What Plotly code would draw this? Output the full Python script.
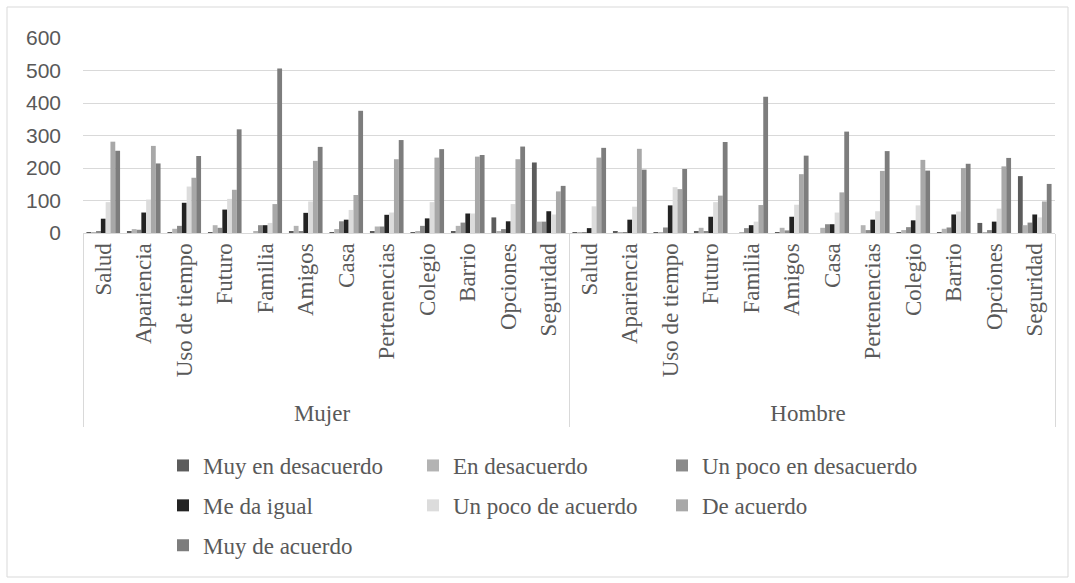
import plotly.graph_objects as go

groups = ["Mujer", "Hombre"]
categories = ["Salud", "Apariencia", "Uso de tiempo", "Futuro", "Familia", "Amigos",
              "Casa", "Pertenencias", "Colegio", "Barrio", "Opciones", "Seguridad"]

series_names = ["Muy en desacuerdo", "En desacuerdo", "Un poco en desacuerdo",
                "Me da igual", "Un poco de acuerdo", "De acuerdo", "Muy de acuerdo"]
colors = ["#5c5c5c", "#b3b3b3", "#8a8a8a", "#232323", "#dcdcdc", "#a8a8a8", "#7d7d7d"]

# Values: Mujer (12) followed by Hombre (12)
muy_en_desacuerdo = [1, 5, 2, 3, 0, 5, 2, 4, 2, 5, 48, 217,
                     1, 4, 2, 6, 0, 1, 0, 0, 1, 1, 31, 175]
en_desacuerdo = [2, 12, 13, 24, 5, 22, 12, 20, 5, 22, 5, 35,
                 1, 1, 2, 16, 1, 16, 16, 24, 9, 13, 1, 24]
un_poco_en_desacuerdo = [6, 10, 22, 16, 24, 5, 36, 20, 22, 32, 12, 35,
                         2, 2, 17, 6, 15, 8, 27, 9, 18, 17, 9, 32]
me_da_igual = [44, 63, 93, 72, 24, 62, 41, 56, 45, 60, 36, 67,
               15, 41, 85, 50, 24, 50, 27, 41, 39, 57, 35, 57]
un_poco_de_acuerdo = [95, 103, 143, 105, 31, 97, 71, 63, 95, 60, 89, 57,
                      82, 81, 141, 95, 35, 87, 63, 67, 85, 66, 75, 48]
de_acuerdo = [281, 268, 170, 133, 89, 222, 117, 227, 232, 235, 227, 128,
              232, 259, 135, 115, 86, 181, 125, 191, 225, 200, 205, 97]
muy_de_acuerdo = [253, 214, 237, 319, 506, 265, 376, 286, 258, 240, 266, 145,
                  262, 195, 197, 280, 419, 238, 312, 252, 192, 213, 231, 151]

series_values = [muy_en_desacuerdo, en_desacuerdo, un_poco_en_desacuerdo, me_da_igual,
                 un_poco_de_acuerdo, de_acuerdo, muy_de_acuerdo]
# legend column for each series (3 columns, filled row by row)
legend_cols = ["legend", "legend2", "legend3", "legend", "legend2", "legend3", "legend"]

y_ticks = [0, 100, 200, 300, 400, 500, 600]

x_outer = [g for g in groups for _ in categories]
x_inner = [c for _ in groups for c in categories]

fig = go.Figure()
for name, vals, col, lg in zip(series_names, series_values, colors, legend_cols):
    fig.add_trace(go.Bar(x=[x_outer, x_inner], y=vals, name=name, legend=lg,
                         legendgroup=name,
                         marker=dict(color=col, line=dict(width=0))))

W, H = 1075, 583
L, R, T, B = 83, 20, 38, 350
pw, ph = W - L - R, H - T - B
base = H - B


def legend_at(left_px, top_px=444):
    return dict(
        orientation="v",
        x=(left_px - L) / pw, xanchor="left",
        y=(base - top_px) / ph, yanchor="top",
        tracegroupgap=7,
        font=dict(family="Liberation Serif", size=23, color="#595959"),
        traceorder="grouped",
        bgcolor="rgba(0,0,0,0)",
    )


fig.update_layout(
    width=W, height=H,
    margin=dict(l=L, r=R, t=T, b=B),
    paper_bgcolor="white", plot_bgcolor="white",
    barmode="group", bargap=0.17, bargroupgap=0.0,
    font=dict(family="Liberation Serif", size=23, color="#595959"),
    xaxis=dict(
        type="multicategory",
        tickangle=-90,
        showline=True, linecolor="#d9d9d9", linewidth=1,
        showdividers=True, dividercolor="#d9d9d9", dividerwidth=1,
        ticks="", showgrid=False,
        tickfont=dict(family="Liberation Serif", size=23, color="#595959"),
    ),
    yaxis=dict(
        range=[0, 600], tickvals=y_ticks,
        showgrid=True, gridcolor="#d9d9d9", gridwidth=1,
        zeroline=False, showline=False, ticks="",
        ticklabelstandoff=21,
        tickfont=dict(family="Liberation Sans", size=21, color="#595959"),
    ),
    legend=legend_at(163),
    legend2=legend_at(413),
    legend3=legend_at(662),
    showlegend=True,
    shapes=[dict(type="rect", xref="paper", yref="paper",
                 x0=(7 - L) / pw, x1=(1068 - L) / pw,
                 y0=(base - 577) / ph, y1=(base - 7) / ph,
                 line=dict(color="#d9d9d9", width=1), layer="below")],
)

fig.write_html("out.html", config={"displayModeBar": False},
               post_script="document.body.style.margin='0';document.body.style.overflow='hidden';")
